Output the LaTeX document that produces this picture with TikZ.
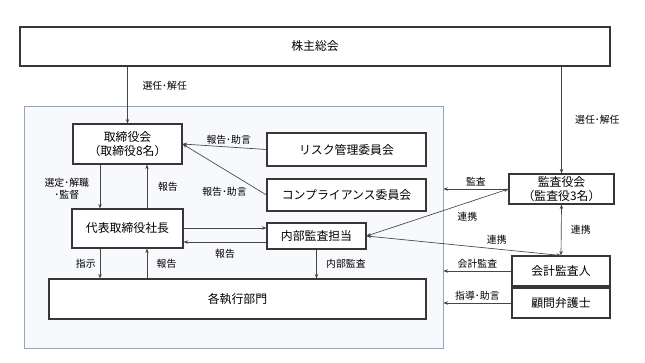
\documentclass[tikz,border=0pt]{standalone}
\usepackage{fontspec}
\setmainfont{Noto Sans CJK JP}
\usepackage{tikz}
\usetikzlibrary{arrows.meta,positioning,calc}
\usepackage{xcolor}
\definecolor{ink}{RGB}{55,55,55}
\definecolor{wire}{RGB}{70,70,70}
\definecolor{cFrame}{RGB}{145,164,192}
\definecolor{cPane}{RGB}{248,249,252}
\tikzset{
  obj/.style={draw=ink,line width=0.8pt,fill=white,inner sep=2pt,
    align=center,font=\fontsize{8.9}{10}\selectfont},
  ar/.style={-{Stealth[length=3.4pt,width=2.6pt]},draw=wire,line width=0.5pt},
  dar/.style={{Stealth[length=3.4pt,width=2.6pt]}-{Stealth[length=3.4pt,width=2.6pt]},
    draw=wire,line width=0.5pt},
  tag/.style={font=\fontsize{7.4}{9}\selectfont,inner sep=1pt,align=center},
}

\begin{document}
\begin{tikzpicture}[x=0.75pt,y=-0.75pt,
  pane/.style={draw=cFrame,fill=cPane,line width=0.6pt,
               minimum width=314.25pt,minimum height=181.5pt}]
  \useasboundingbox (0,0) rectangle (645,363);
  % shareholders and the company frame
  \node[obj,minimum width=442.5pt,minimum height=29.25pt] (gm) at (315,46.5) {株主総会};
  \node[pane] (corp) at (233.5,227) {};
  % inside the company
  \node[obj,minimum width=81.75pt,minimum height=30pt]   (bod)  at (127.5,144) {取締役会\\（取締役8名）};
  \node[obj,minimum width=119.25pt,minimum height=24.75pt](risk) at (346.5,149.5) {リスク管理委員会};
  \node[obj,minimum width=119.25pt,minimum height=24pt]  (comp) at (346.5,195) {コンプライアンス委員会};
  \node[obj,minimum width=83.25pt,minimum height=29.25pt](ceo)  at (127.5,228.5) {代表取締役社長};
  \node[obj,minimum width=74.25pt,minimum height=19.5pt] (aud)  at (316.5,236) {内部監査担当};
  \node[obj,minimum width=282.75pt,minimum height=30pt]  (exec) at (237.5,299) {各執行部門};
  % outside the company
  \node[obj,minimum width=78.75pt,minimum height=22.5pt] (kan)  at (561.5,189) {監査役会\\（監査役3名）};
  \node[obj,minimum width=73.5pt,minimum height=22.5pt]  (acc)  at (561,271) {会計監査人};
  \node[obj,minimum width=73.5pt,minimum height=22.5pt]  (law)  at (561,303) {顧問弁護士};
  % helper points
  \coordinate (dn) at ($(bod.south)+(-27.5,0)$);
  \coordinate (up) at ($(bod.south)+(19.5,0)$);
  \coordinate (a1) at ($(aud.west)+(0,-8)$);
  \coordinate (a2) at ($(aud.west)+(0,6)$);
  % edges
  \draw[ar] (bod.north |- gm.south) -- node[tag,right=10pt,pos=.34] (t1) {選任･解任} (bod.north);
  \draw[ar] (kan.north |- gm.south) -- node[tag,right=9pt,pos=.5] (t2) {選任･解任} (kan.north);
  \draw[ar] (dn) -- node[tag,left=7pt,pos=.55] (t3) {選定･解職\\･監督} (dn |- ceo.north);
  \draw[ar] (up |- ceo.north) -- node[tag,right=7pt] (t4) {報告} (up);
  \draw[ar] (dn |- ceo.south) -- node[tag,left=2pt] (t5) {指示} (dn |- exec.north);
  \draw[ar] (up |- exec.north) -- node[tag,right=6pt] (t6) {報告} (up |- ceo.south);
  \draw[ar] (risk.west) -- node[tag,above=1pt,pos=.45] (t7) {報告･助言} (bod.east);
  \draw[ar] (comp.west) -- node[tag,pos=.5,yshift=-17pt] (t8) {報告･助言} (bod.east);
  \draw[ar] (ceo.east |- a1) -- (a1);
  \draw[ar] (a2) -- node[tag,below=4pt] (t9) {報告} (ceo.east |- a2);
  \draw[ar] (aud.south) -- node[tag,right=6pt] (t10) {内部監査} (aud.south |- exec.north);
  \draw[ar] (kan.west) -- node[tag,above=1pt] (t11) {監査} (kan.west -| corp.east);
  \draw[dar] (kan.west) -- node[tag,below=6pt,pos=.29] (t12) {連携} (aud.east);
  \draw[dar] (aud.east) -- node[tag,above=2pt,pos=.67] (t13) {連携} (acc.north);
  \draw[dar] (kan.south) -- node[tag,right=6pt] (t14) {連携} (acc.north);
  \draw[ar] (acc.west) -- node[tag,above=1pt] (t15) {会計監査} (acc.west -| corp.east);
  \draw[ar] (law.west) -- node[tag,above=1pt] (t16) {指導･助言} (law.west -| corp.east);
\end{tikzpicture}
\end{document}
